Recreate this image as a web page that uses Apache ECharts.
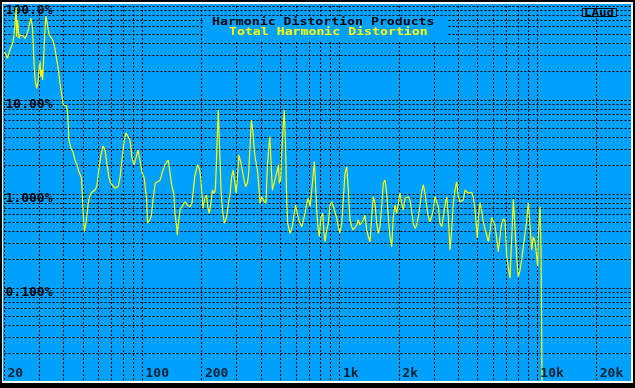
<!DOCTYPE html>
<html><head><meta charset="utf-8">
<script src="https://cdn.jsdelivr.net/npm/echarts@6/dist/echarts.min.js"></script>
<style>
html,body{margin:0;padding:0;background:#000;}
#wrap{position:relative;width:635px;height:388px;overflow:hidden;}
#chart{position:absolute;left:0;top:0;width:635px;height:388px;}
#frame{position:absolute;left:0;top:0;width:635px;height:388px;box-sizing:border-box;border-style:solid;border-color:#000;border-width:2px 2px 5px 2px;pointer-events:none;}
#frame div{width:100%;height:100%;box-sizing:border-box;border-style:solid;border-color:#fff;border-width:2px 2px 2px 1px;}
</style></head>
<body>
<div id="wrap"><div id="chart"></div><div id="frame"><div></div></div></div>
<script>
// ---- data ----
const freqHz = [
20.0,20.7,21.3,22.0,22.3,22.6,22.9,23.1,23.3,23.7,24.0,24.4,24.9,25.4,25.9,26.4,26.9,27.2,27.7,28.0,
28.3,28.6,29.1,29.5,29.9,30.3,30.5,30.9,31.2,31.6,32.0,32.4,32.9,33.3,33.7,34.3,35.1,36.0,36.8,37.5,
38.2,39.0,39.7,40.5,41.3,41.8,
42.4,43.4,44.5,45.5,46.6,47.7,49.1,50.0,50.7,51.7,52.5,53.1,54.2,55.9,57.5,58.6,59.3,
60.2,61.6,63.1,64.6,66.1,67.7,69.0,70.6,72.6,74.0,75.4,76.9,78.7,80.6,82.5,84.4,86.4,88.5,90.6,92.7,
94.9,97.1,99.4,102,103,105,106,109,111,113,116,119,
123,126,130,135,138,141,144,146,149,150,152,155,158,164,169,174,178,181,184,190,
194,197,200,202,205,207,211,214,218,222,226,230,234,238,242,247,250,254,260,267,
272,278,283,288,294,298,302,308,314,320,327,333,340,345,350,356,362,368,374,382,
388,394,402,409,417,422,429,437,442,448,455,464,473,482,488,493,501,507,517,523,
531,538,544,559,574,585,597,608,623,641,653,666,679,692,706,720,733,742,751,763,
777,787,802,818,831,841,857,874,891,909,926,944,963,982,
1000,1021,1040,1061,1083,1103,1125,1148,1169,1193,1217,1239,1264,1290,1314,1340,1367,1393,1421,1449,
1476,1506,1536,1565,1596,1628,1659,1692,1726,1759,1794,1830,1864,1902,1940,1976,2016,2056,2095,2137,
2180,2221,2265,2311,2354,2401,2450,2496,2546,2597,2645,2699,2753,2804,2861,2918,2973,3032,3093,3151,
3214,3279,3341,3408,3476,3542,3612,3685,3754,3829,3906,3979,4059,4141,4218,4303,4389,4471,4561,4652,
4740,4835,4932,4967,5025,5125,5229,5326,5434,5542,5647,5760,5875,5985,6105,6228,6346,6472,6602,6726,
6861,6999,7130,7274,7419,7559,7710,7865,8012,8173,8338,8494,8664,8837,9003,9184,9368,9544,9736,9930,
10047,10117,10320,10441,10526,10601
];
const thdPct = [
32.6,27.8,34.0,40.1,47.1,62.8,96.9,47.1,71.0,45.3,49.2,51.2,48.0,45.3,49.2,55.6,68.1,74.0,60.2,36.9,
22.6,16.3,13.3,15.1,20.9,25.6,17.7,20.9,16.3,28.9,51.2,78.3,65.5,55.6,49.2,47.1,43.5,35.5,26.6,20.9,
15.1,11.3,8.85,8.49,8.63,6.93,
3.75,3.09,2.80,2.30,2.04,1.71,1.48,0.676,0.397,0.492,0.628,0.802,0.976,1.06,1.10,1.20,1.41,
1.89,2.60,3.24,2.94,2.04,1.48,1.31,1.25,1.15,1.10,1.20,1.48,2.30,3.57,4.46,4.68,3.75,2.42,2.04,2.42,
2.94,2.30,1.71,1.48,1.41,0.863,0.492,0.529,0.598,0.863,1.31,1.34,
1.41,1.71,2.04,2.30,1.66,1.20,1.02,0.623,0.449,0.366,0.488,0.676,0.705,0.828,0.764,0.733,0.796,1.10,1.53,2.04,
1.88,1.53,1.02,0.705,0.733,0.900,0.976,0.733,0.623,0.796,1.10,1.02,1.10,2.94,7.83,2.30,1.10,0.676,0.488,0.573,
0.764,1.02,1.53,1.80,1.30,1.02,1.41,2.60,2.21,1.80,1.41,1.20,1.30,1.66,2.94,6.13,4.80,2.94,2.30,1.80,
1.25,0.796,0.936,0.863,0.900,0.796,1.95,3.32,4.07,2.12,1.10,1.30,1.53,1.80,2.04,1.30,1.41,2.71,5.65,7.83,
2.94,0.796,0.488,0.382,0.449,0.598,0.764,0.623,0.507,0.449,0.529,0.623,0.796,0.900,0.733,1.10,1.66,2.21,1.41,0.676,
0.414,0.351,0.573,0.623,0.382,0.311,0.414,0.488,0.764,0.832,0.736,0.644,0.556,0.446,
0.385,0.488,0.863,1.66,1.95,1.10,0.529,0.449,0.414,0.397,0.468,0.529,0.468,0.449,0.529,0.598,0.414,0.351,0.311,0.573,
0.936,0.796,0.488,0.382,0.449,0.733,1.30,1.41,1.02,0.573,0.351,0.275,0.573,0.764,0.623,0.598,1.02,0.796,0.676,0.900,
0.863,0.936,0.863,0.648,0.488,0.432,0.468,0.573,0.764,1.06,1.25,1.02,0.733,0.573,0.507,0.573,0.676,0.936,0.936,0.733,
0.488,0.449,0.573,0.764,0.936,0.573,0.254,0.414,0.796,1.10,1.35,0.936,0.828,0.796,0.863,1.10,1.06,1.02,1.06,1.04,
0.929,0.676,0.414,0.340,0.556,0.812,0.648,0.507,0.424,0.366,0.311,0.404,0.562,0.551,0.468,0.332,0.243,0.351,0.488,0.542,
0.516,0.219,0.165,0.128,0.340,0.885,0.435,0.209,0.132,0.155,0.199,0.275,0.382,0.529,0.812,0.468,0.254,0.351,0.311,0.215,
0.169,0.351,0.733,0.265,0.0303,0.00394
];
// axis ranges and ticks
const xMinHz = 20, xMaxHz = 30000;
const yMinPct = 0.01, yMaxPct = 100;
const xGridHz = [20,30,40,50,60,70,80,90,100,200,300,400,500,600,700,800,900,
  1000,2000,3000,4000,5000,6000,7000,8000,9000,10000,20000];
const yGridPct = [0.02,0.03,0.04,0.05,0.06,0.07,0.08,0.09,0.1,0.2,0.3,0.4,0.5,0.6,0.7,0.8,0.9,
  1,2,3,4,5,6,7,8,9,10,20,30,40,50,60,70,80,90,100];
const xTickHz = [20,100,200,1000,2000,10000,20000];
const xTickLabels = ['20','100','200','1k','2k','10k','20k'];
const yTickPct = [100,10,1,0.1];
const yTickLabels = ['100.0%','10.00%','1.000%','0.100%'];
const titleText = 'Harmonic Distortion Products';
const seriesName = 'Total Harmonic Distortion';
const boxText = 'LAud';

const BLUE = '#00a0ff';
const FONT = '"DejaVu Sans Mono", monospace';

function gridLine(isX) {
  return function (params, api) {
    const cs = params.coordSys;
    const p = api.coord([api.value(0), api.value(1)]);
    let shape;
    if (isX) {
      const x = Math.floor(p[0]) + 0.5;
      shape = { x1: x, y1: cs.y, x2: x, y2: cs.y + cs.height };
    } else {
      const y = Math.floor(p[1]) + 0.5;
      shape = { x1: cs.x, y1: y, x2: cs.x + cs.width, y2: y };
    }
    return { type: 'line', shape: shape, silent: true,
      style: { stroke: '#000', lineWidth: 1, lineDash: [2, 2] } };
  };
}

const chart = echarts.init(document.getElementById('chart'), null, { renderer: 'canvas' });
chart.setOption({
  animation: false,
  backgroundColor: BLUE,
  grid: { left: 4.5, top: 6, width: 627, height: 376, containLabel: false },
  xAxis: { type: 'log', logBase: 10, min: xMinHz, max: xMaxHz,
    axisLine: { show: false }, axisTick: { show: false }, splitLine: { show: false },
    axisLabel: { show: false } },
  yAxis: { type: 'log', logBase: 10, min: yMinPct, max: yMaxPct,
    axisLine: { show: false }, axisTick: { show: false }, splitLine: { show: false },
    axisLabel: { inside: true, margin: 1, verticalAlign: 'top', align: 'left',
      color: '#000', fontFamily: FONT, fontWeight: 'bold', fontSize: 13, lineHeight: 9,
      backgroundColor: BLUE,
      formatter: function (v) {
        const e = Math.round(Math.log10(v));
        for (let i = 0; i < yTickPct.length; i++) {
          if (Math.round(Math.log10(yTickPct[i])) === e) return yTickLabels[i];
        }
        return '';
      } } },
  series: [
    { type: 'custom', name: 'xgrid', silent: true, z: 1,
      data: xGridHz.map(function (f) { return [f, yMinPct]; }), renderItem: gridLine(true) },
    { type: 'custom', name: 'ygrid', silent: true, z: 1,
      data: yGridPct.map(function (v) { return [xMinHz, v]; }), renderItem: gridLine(false) },
    { type: 'line', name: seriesName, z: 3, symbol: 'none', showSymbol: false, clip: true,
      lineStyle: { color: '#ffff00', width: 1.2 },
      data: freqHz.map(function (f, i) { return [f, thdPct[i]]; }) },
    { type: 'scatter', name: 'xlabels', silent: true, z: 4, symbolSize: 0,
      itemStyle: { color: 'rgba(0,0,0,0)' },
      data: xTickHz.map(function (f) { return [f, yMinPct]; }),
      label: { show: true, position: [3, -13], align: 'left', verticalAlign: 'top',
        color: '#000', fontFamily: FONT, fontWeight: 'bold', fontSize: 13, lineHeight: 9,
        formatter: function (p) { return xTickLabels[p.dataIndex]; } } }
  ],
  graphic: [
    { type: 'rect', z: 10, shape: { x: 203, y: 16, width: 244, height: 25 }, style: { fill: BLUE } },
    { type: 'text', z: 11, x: 212, y: 17, scaleX: 1.2,
      style: { text: titleText, fill: '#000', font: 'bold 11px ' + FONT } },
    { type: 'text', z: 11, x: 229, y: 27, scaleX: 1.2,
      style: { text: seriesName, fill: '#ffff00', font: 'bold 11px ' + FONT } },
    { type: 'rect', z: 10, shape: { x: 582.5, y: 8.5, width: 34, height: 8 },
      style: { fill: BLUE, stroke: '#000', lineWidth: 1 } },
    { type: 'text', z: 11, x: 584, y: 8, scaleX: 1.25,
      style: { text: boxText, fill: '#000', font: 'bold 10px ' + FONT } }
  ]
});
</script>
</body></html>
